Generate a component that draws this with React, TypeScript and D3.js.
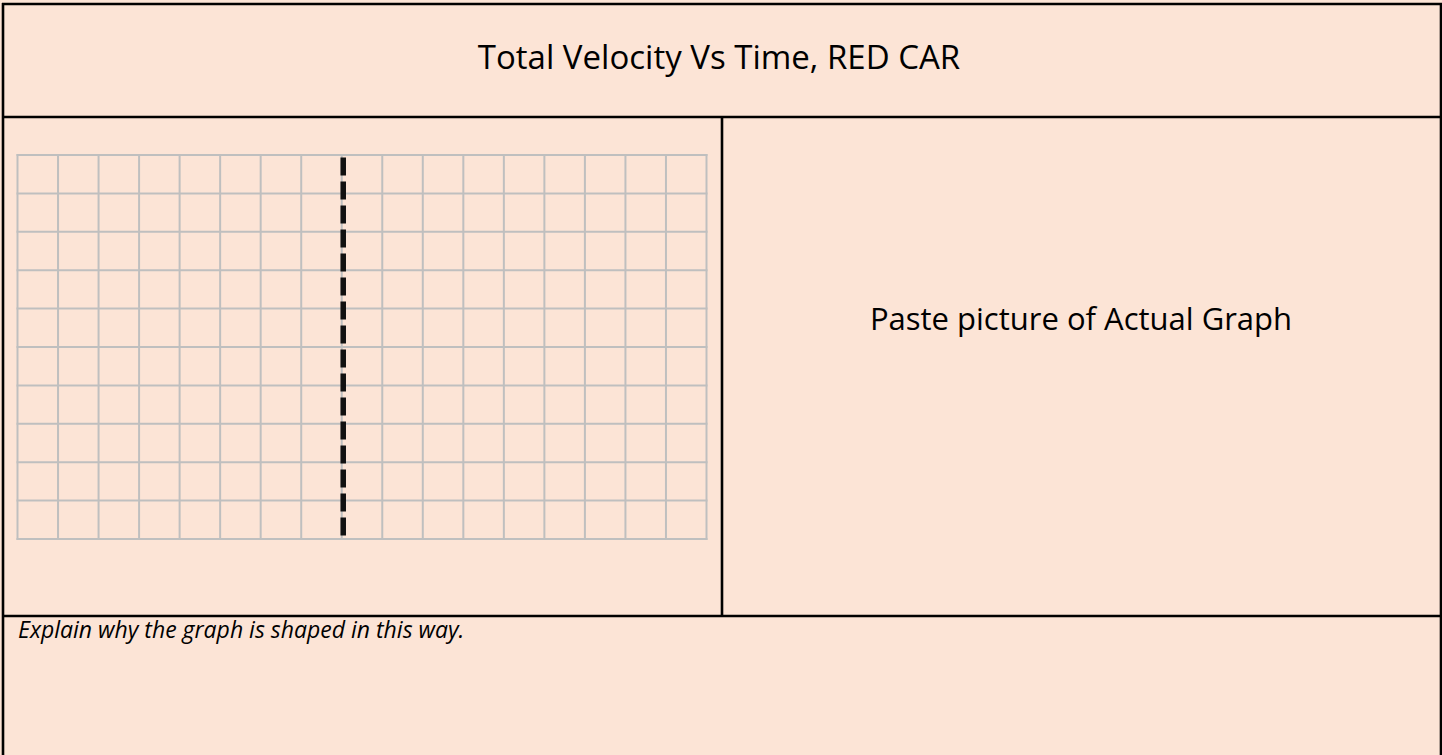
import React, { useEffect, useRef } from "react";
import * as d3 from "d3";

// worksheet texts
const titleText = "Total Velocity Vs Time, RED CAR";
const pasteText = "Paste picture of Actual Graph";
const explainText = "Explain why the graph is shaped in this way.";

// blank grid: column and row lines (17 columns x 10 rows)
const colTicks = [0, 1, 2, 3, 4, 5, 6, 7, 8, 9, 10, 11, 12, 13, 14, 15, 16, 17];
const rowTicks = [0, 1, 2, 3, 4, 5, 6, 7, 8, 9, 10];
// dashed marker sits on this column line
const markerCols = [8];

const W = 1442;
const H = 755;
const bg = "#fce4d6";
const font = "'Open Sans', 'DejaVu Sans', sans-serif";

function Worksheet() {
  const ref = useRef<SVGSVGElement>(null);

  useEffect(() => {
    const svg = d3.select(ref.current);
    svg.selectAll("*").remove();

    svg.append("rect").attr("width", W).attr("height", H).attr("fill", bg);

    // table lines
    const lines = svg.append("g").attr("stroke", "#000").attr("stroke-width", 2.6);
    lines.append("line").attr("x1", 3).attr("x2", 3).attr("y1", 3).attr("y2", H);
    lines.append("line").attr("x1", 1441).attr("x2", 1441).attr("y1", 3).attr("y2", H);
    lines.append("line").attr("x1", 2).attr("x2", 1442).attr("y1", 4).attr("y2", 4);
    lines.append("line").attr("x1", 2).attr("x2", 1442).attr("y1", 117).attr("y2", 117);
    lines.append("line").attr("x1", 2).attr("x2", 1442).attr("y1", 616).attr("y2", 616);
    lines.append("line").attr("x1", 722).attr("x2", 722).attr("y1", 117).attr("y2", 616);

    // texts
    svg.append("text")
      .attr("x", 719).attr("y", 69)
      .attr("text-anchor", "middle")
      .attr("font-family", font).attr("font-size", 33).attr("fill", "#000")
      .text(titleText);
    svg.append("text")
      .attr("x", 1081).attr("y", 330)
      .attr("text-anchor", "middle")
      .attr("font-family", font).attr("font-size", 31).attr("fill", "#000")
      .text(pasteText);
    svg.append("text")
      .attr("x", 18).attr("y", 638)
      .attr("font-family", font).attr("font-size", 23).attr("font-style", "italic").attr("fill", "#000")
      .text(explainText);

    // grid
    const x = d3.scaleLinear().domain([0, 17]).range([17.5, 706.5]);
    const y = d3.scaleLinear().domain([0, 10]).range([155, 539]);

    const grid = svg.append("g").attr("stroke", "#bfbfbf").attr("stroke-width", 2);
    grid.selectAll(".col").data(colTicks).join("line")
      .attr("class", "col")
      .attr("x1", d => x(d)).attr("x2", d => x(d))
      .attr("y1", y(0) - 1).attr("y2", y(10) + 1);
    grid.selectAll(".row").data(rowTicks).join("line")
      .attr("class", "row")
      .attr("y1", d => y(d)).attr("y2", d => y(d))
      .attr("x1", x(0) - 1).attr("x2", x(17) + 1);

    // dashed vertical marker
    svg.selectAll(".marker").data(markerCols).join("line")
      .attr("class", "marker")
      .attr("x1", d => x(d) + 1.5).attr("x2", d => x(d) + 1.5)
      .attr("y1", y(0) + 2.5).attr("y2", y(10) - 3)
      .attr("stroke", "#111").attr("stroke-width", 5.5)
      .attr("stroke-dasharray", "18 6");
  }, []);

  return (
    <svg ref={ref} width={W} height={H}
      style={{ position: "absolute", left: 0, top: 0, display: "block" }} />
  );
}

export default function App() {
  return <Worksheet />;
}
